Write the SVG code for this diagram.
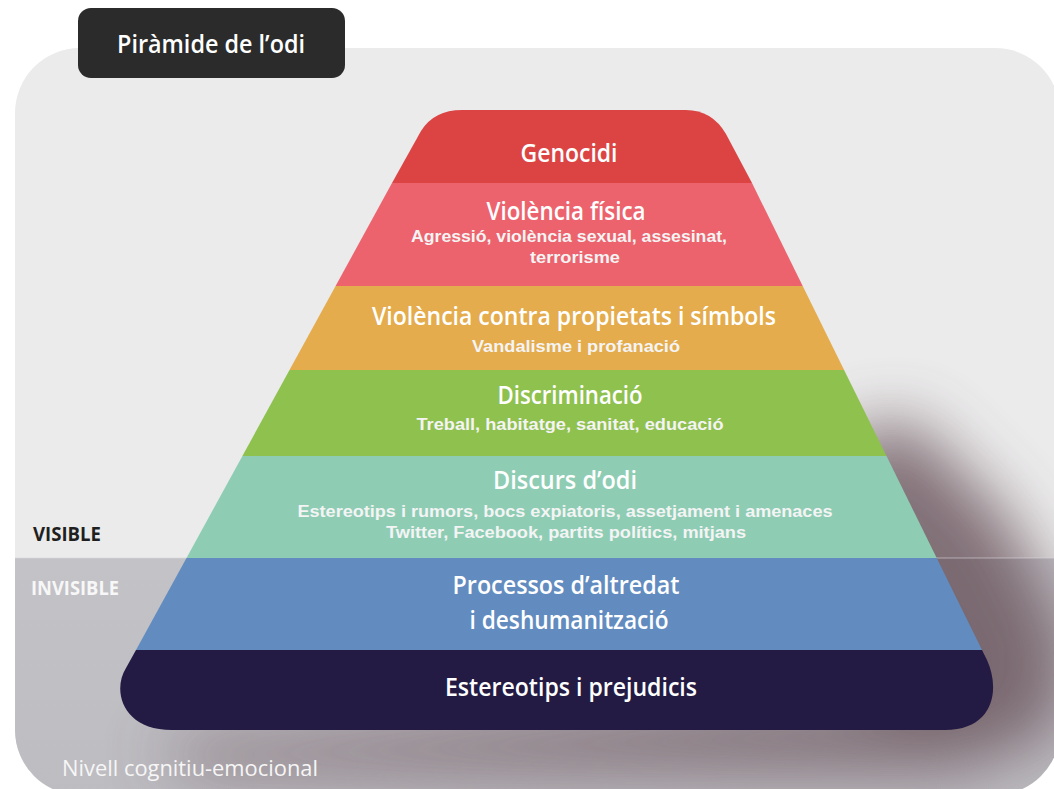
<svg xmlns="http://www.w3.org/2000/svg" width="1054" height="789" viewBox="0 0 1054 789">
<defs>
<style>
.h{font-family:"Open Sans","Liberation Sans",sans-serif;font-weight:600;fill:#ffffff;text-anchor:middle;font-size:25px}
.s{font-family:"Liberation Sans",Arial,sans-serif;font-weight:bold;fill:#f4f4f4;text-anchor:middle;font-size:16px}
.lab{font-family:"Open Sans","Liberation Sans",sans-serif;font-weight:700;font-size:19px}
</style>
<clipPath id="panel"><rect x="15" y="48" width="1045" height="747" rx="65"/></clipPath>
<linearGradient id="inv" x1="0" y1="0" x2="0" y2="1">
<stop offset="0" stop-color="#c3c2c7"/>
<stop offset="1" stop-color="#bdbcc1"/>
</linearGradient>
<filter id="blur" x="-50%" y="-50%" width="200%" height="200%"><feGaussianBlur stdDeviation="32"/></filter>
</defs>
<rect width="1054" height="789" fill="#ffffff"/>
<g id="background" clip-path="url(#panel)">
<rect x="0" y="0" width="1054" height="789" fill="#ebebeb"/>
<rect x="0" y="558" width="1054" height="240" fill="url(#inv)"/>
<path d="M830,440 L910,420 L1010,520 L1070,640 L1060,730 L960,770 L200,770 L150,745 L880,700 Z" fill="#6e5a62" opacity="0.85" filter="url(#blur)"/>
<line x1="0" y1="558" x2="1054" y2="558" stroke="#d8d7db" stroke-width="1" opacity="0.6"/>
</g>
<g id="title">
<rect x="78" y="8" width="267" height="70" rx="13" fill="#2b2b2b"/>
<text x="211" y="53" class="h" font-size="25" textLength="188" lengthAdjust="spacingAndGlyphs">Piràmide de l’odi</text>
</g>
<g id="label-visible"><text x="33" y="541" class="lab" fill="#1f1f1f" textLength="68" lengthAdjust="spacingAndGlyphs">VISIBLE</text></g>
<g id="label-invisible"><text x="31" y="595" class="lab" fill="#f7f7f7" textLength="88" lengthAdjust="spacingAndGlyphs">INVISIBLE</text></g>
<g id="label-nivell"><text x="62" y="776" font-family="Open Sans, Liberation Sans, sans-serif" font-size="22" fill="#f6f6f6" textLength="256" lengthAdjust="spacingAndGlyphs">Nivell cognitiu-emocional</text></g>
<g id="connectors"></g>
<g id="layer-genocidi">
<path d="M392,183 L421,131 Q434,110 462,110 L686,110 Q712,110 726,134 L752,183 Z" fill="#dc4444"/>
<text x="569" y="162" class="h" textLength="97" lengthAdjust="spacingAndGlyphs">Genocidi</text>
</g>
<g id="layer-violencia-fisica">
<path d="M392,183 L752,183 L802.7,286 L335.6,286 Z" fill="#ec636e"/>
<text x="566" y="220" class="h" textLength="159" lengthAdjust="spacingAndGlyphs">Violència física</text>
<text x="569" y="242" class="s" textLength="316" lengthAdjust="spacingAndGlyphs">Agressió, violència sexual, assesinat,</text>
<text x="575" y="263" class="s" textLength="90" lengthAdjust="spacingAndGlyphs">terrorisme</text>
</g>
<g id="layer-propietats">
<path d="M335.6,286 L802.7,286 L844.1,370 L289.5,370 Z" fill="#e4ac4c"/>
<text x="574" y="325" class="h" textLength="404" lengthAdjust="spacingAndGlyphs">Violència contra propietats i símbols</text>
<text x="576" y="352" class="s" textLength="208" lengthAdjust="spacingAndGlyphs">Vandalisme i profanació</text>
</g>
<g id="layer-discriminacio">
<path d="M289.5,370 L844.1,370 L886.5,456 L242.4,456 Z" fill="#8fc14f"/>
<text x="570" y="404" class="h" textLength="145" lengthAdjust="spacingAndGlyphs">Discriminació</text>
<text x="570" y="430" class="s" textLength="307" lengthAdjust="spacingAndGlyphs">Treball, habitatge, sanitat, educació</text>
</g>
<g id="layer-discurs">
<path d="M242.4,456 L886.5,456 L936.7,558 L186.5,558 Z" fill="#8ecdb4"/>
<text x="565" y="489" class="h" textLength="144" lengthAdjust="spacingAndGlyphs">Discurs d’odi</text>
<text x="565" y="517" class="s" textLength="535" lengthAdjust="spacingAndGlyphs">Estereotips i rumors, bocs expiatoris, assetjament i amenaces</text>
<text x="566" y="538" class="s" textLength="360" lengthAdjust="spacingAndGlyphs">Twitter, Facebook, partits polítics, mitjans</text>
</g>
<g id="layer-processos">
<path d="M186.5,558 L936.7,558 L982,650 L136,650 Z" fill="#628cbf"/>
<text x="566" y="594" class="h" textLength="227" lengthAdjust="spacingAndGlyphs">Processos d’altredat</text>
<text x="569" y="629" class="h" textLength="199" lengthAdjust="spacingAndGlyphs">i deshumanització</text>
</g>
<g id="layer-estereotips">
<path d="M136,650 L982,650 L987,660 C1000,688 995,730 945,730 L172,730 C122,730 112,690 126,668 Z" fill="#231b43"/>
<text x="571" y="696" class="h" textLength="252" lengthAdjust="spacingAndGlyphs">Estereotips i prejudicis</text>
</g>
</svg>
